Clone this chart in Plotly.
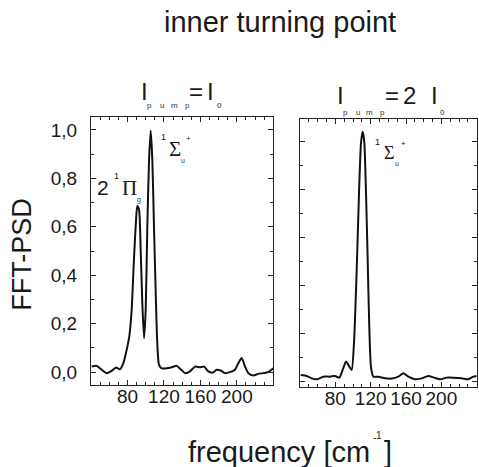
import plotly.graph_objects as go

W, H = 479, 467

# ---------------- data ----------------
left_x = [40.8, 46.2, 51.7, 57.2, 62.7, 67.4, 71.8, 75.5, 79.1, 82.0, 84.6, 87.1, 89.4, 90.8, 92.7,
          94.5, 96.3, 98.2, 100.0, 101.8, 103.7, 105.5, 107.3, 109.1, 111.0, 112.7, 114.6, 117.6,
          123.0, 128.5, 134.0, 138.4, 143.1, 148.6, 154.1, 159.6, 164.0, 168.7, 173.5, 177.9, 182.3,
          187.0, 192.5, 198.0, 201.6, 205.3, 209.0, 212.6, 218.0, 223.5, 229.0, 234.5, 240.0]
left_y = [0.023, 0.026, 0.010, -0.004, 0.005, 0.019, 0.012, 0.037, 0.092, 0.147, 0.257, 0.463, 0.629,
          0.686, 0.670, 0.505, 0.285, 0.140, 0.257, 0.601, 0.876, 0.997, 0.876, 0.601, 0.326, 0.120,
          0.030, 0.016, 0.016, 0.020, 0.026, 0.012, -0.004, 0.003, 0.023, 0.020, 0.023, 0.003, -0.002,
          0.010, 0.007, -0.004, 0.000, 0.010, 0.037, 0.058, 0.023, -0.004, -0.014, -0.007, -0.004,
          0.000, 0.016]

right_x = [40.8, 47.6, 53.2, 59.6, 66.4, 74.0, 79.6, 84.5, 88.3, 92.1, 95.8, 98.5, 101.1, 104.2,
           106.8, 109.1, 111.0, 112.8, 114.7, 116.6, 118.4, 120.3, 123.0, 128.6, 136.2, 143.8, 151.3,
           156.9, 162.6, 170.2, 177.7, 185.2, 191.7, 198.5, 206.0, 213.5, 223.0, 230.5, 236.2, 240.0]
right_y = [0.028, 0.024, 0.014, 0.010, 0.021, 0.021, 0.024, 0.017, 0.049, 0.084, 0.063, 0.049, 0.160,
           0.467, 0.787, 0.996, 1.040, 0.996, 0.787, 0.508, 0.230, 0.063, 0.021, 0.021, 0.014, 0.013,
           0.021, 0.035, 0.021, 0.010, 0.014, 0.024, 0.017, 0.010, 0.017, 0.017, 0.014, 0.010, 0.021,
           0.024]

x_tickvals = [80, 120, 160, 200]
x_ticktext = ["80", "120", "160", "200"]
y_tickvals = [0.0, 0.2, 0.4, 0.6, 0.8, 1.0]
y_ticktext = ["0,0", "0,2", "0,4", "0,6", "0,8", "1,0"]
x_minor = [40, 50, 60, 70, 90, 100, 110, 130, 140, 150, 170, 180, 190, 210, 220, 230, 240]
y_minor = [0.1, 0.3, 0.5, 0.7, 0.9]

title_text = "inner turning point"
ylabel_text = "FFT-PSD"
xlabel_text = "frequency [cm"

# ---------------- helpers ----------------
def px(x):
    return x / W

def py(y):
    return 1 - y / H

FONT = "Liberation Sans, Arial, sans-serif"
SERIF = "Liberation Serif, Times New Roman, serif"
INK = "#1a1a1a"

fig = go.Figure()
fig.add_trace(go.Scatter(x=left_x, y=left_y, mode="lines", line=dict(color="#111", width=2, shape="spline", smoothing=0.6),
                         xaxis="x", yaxis="y", showlegend=False, hoverinfo="skip"))
fig.add_trace(go.Scatter(x=right_x, y=right_y, mode="lines", line=dict(color="#111", width=2, shape="spline", smoothing=0.6),
                         xaxis="x2", yaxis="y2", showlegend=False, hoverinfo="skip"))

def xaxis(domain, anchor, labels=True):
    return dict(domain=domain, anchor=anchor, range=[40, 240], showgrid=False, zeroline=False,
                showline=True, linecolor="#222", linewidth=1, mirror="ticks",
                ticks="inside", ticklen=5, tickwidth=1, tickcolor="#222",
                tickmode="array", tickvals=x_tickvals, ticktext=x_ticktext, showticklabels=labels,
                tickfont=dict(family=FONT, size=19, color=INK), ticklabelstandoff=-6,
                minor=dict(tickmode="array", tickvals=x_minor, ticks="inside", ticklen=3, tickcolor="#222", showgrid=False))

def yaxis(domain, anchor, rng, labels=True):
    return dict(domain=domain, anchor=anchor, range=rng, showgrid=False, zeroline=False,
                showline=True, linecolor="#222", linewidth=1, mirror="ticks",
                ticks="inside", ticklen=5, tickwidth=1, tickcolor="#222",
                tickmode="array", tickvals=y_tickvals, ticktext=y_ticktext, showticklabels=labels,
                tickfont=dict(family=FONT, size=19, color=INK), ticklabelstandoff=9,
                minor=dict(tickmode="array", tickvals=y_minor, ticks="inside", ticklen=3, tickcolor="#222", showgrid=False))

ann = []
def A(text, x, y, size, family=FONT, xanchor="center", yanchor="middle", angle=0, color=INK):
    ann.append(dict(text=text, x=px(x), y=py(y), xref="paper", yref="paper", showarrow=False,
                    xanchor=xanchor, yanchor=yanchor, textangle=angle, borderpad=0,
                    font=dict(family=family, size=size, color=color)))

SMALL = "#333333"

# title and axis titles
A(title_text, 279.5, 22, 29)
A(ylabel_text, 21.7, 254, 27, angle=-90)
A(xlabel_text, 187, 452, 29, xanchor="left")
A("-", 374, 437, 10)
A("1", 379, 435, 10)
A("]", 388, 452, 29)

# panel headers
A("I", 144.2, 91.3, 24)
A("=", 195.8, 91.3, 24)
A("I", 210.8, 91.3, 24)
for ch, xx in zip("pump", [149.5, 161.5, 174, 187]):
    A(ch, xx, 106, 8, color=SMALL)
A("0", 219, 106, 8, color=SMALL)

A("I", 340, 95.3, 24)
A("=", 391.7, 95.3, 24)
A("2", 409.2, 95.3, 24)
A("I", 434.2, 95.3, 24)
for ch, xx in zip("pump", [345.5, 357.5, 369.5, 382]):
    A(ch, xx, 112, 8, color=SMALL)
A("0", 442, 112, 8, color=SMALL)

# peak labels, left panel
A("1", 163.3, 136.7, 9)
A("\u03a3", 175, 149.2, 21, family=SERIF)
A("u", 182.7, 160.7, 7, color=SMALL)
A("+", 188.3, 138.3, 8)
A("2", 103.3, 187.5, 21)
A("1", 116.5, 176.5, 9)
A("\u03a0", 129.2, 188.3, 21, family=SERIF)
A("g", 138.5, 200, 7, color=SMALL)

# peak label, right panel
A("1", 377.7, 141.7, 9)
A("\u03a3", 389, 152.5, 18, family=SERIF)
A("u", 396.7, 163.3, 7, color=SMALL)
A("+", 403.3, 143.3, 8)

fig.update_layout(
    width=W, height=H, margin=dict(l=0, r=0, t=0, b=0),
    paper_bgcolor="white", plot_bgcolor="white",
    xaxis=xaxis([91 / W, 273.3 / W], "y"),
    yaxis=yaxis([1 - 385 / H, 1 - 117.3 / H], "x", [-0.053, 1.052]),
    xaxis2=xaxis([300 / W, 476.7 / W], "y2"),
    yaxis2=yaxis([1 - 387 / H, 1 - 119 / H], "x2", [-0.022, 1.093], labels=False),
    annotations=ann,
)

fig.write_html("out.html")
